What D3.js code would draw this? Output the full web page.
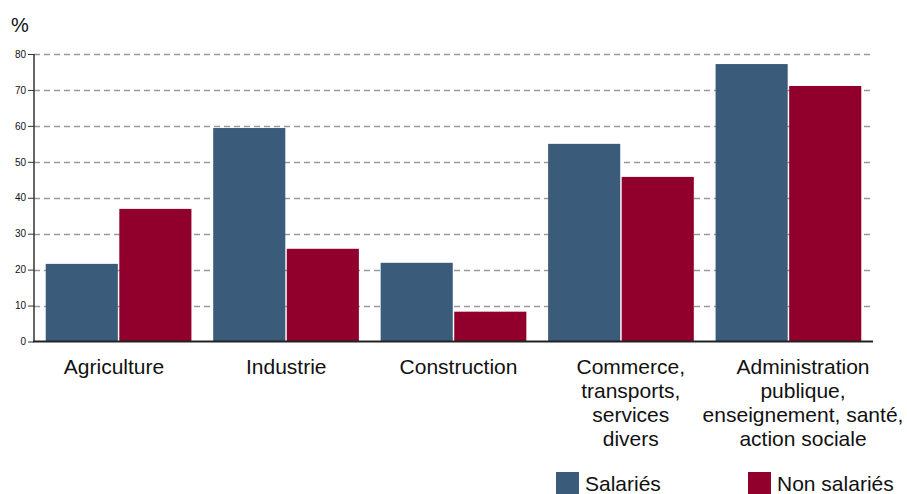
<!DOCTYPE html>
<html>
<head>
<meta charset="utf-8">
<script src="https://d3js.org/d3.v7.min.js"></script>
<style>
  body { margin: 0; background: #fff; }
  text { font-family: "Liberation Sans", Arial, sans-serif; fill: #111; }
</style>
</head>
<body>
<svg id="chart"></svg>
<script>

var categories = ["Agriculture", "Industrie", "Construction", "Commerce", "Administration"];
var categoryLines = [
  ["Agriculture"],
  ["Industrie"],
  ["Construction"],
  ["Commerce,", "transports,", "services", "divers"],
  ["Administration", "publique,", "enseignement, santé,", "action sociale"]
];
var series = ["Salariés", "Non salariés"];
var salaries = [21.6, 59.4, 21.9, 55.0, 77.2];
var nonSalaries = [36.9, 25.8, 8.3, 45.8, 71.1];
var yTicks = [0, 10, 20, 30, 40, 50, 60, 70, 80];

var colors = ["#3b5b7a", "#91002d"];

var width = 907, height = 494;
var plotLeft = 34, plotRight = 873, plotTop = 54, plotBottom = 341.5;

var svg = d3.select("#chart")
  .attr("width", width)
  .attr("height", height);

var y = d3.scaleLinear().domain([0, 80]).range([plotBottom, plotTop]);

var x = d3.scaleBand()
  .domain(categories)
  .range([plotLeft, plotRight])
  .paddingInner(0.13)
  .paddingOuter(0.07);

var xSub = d3.scaleBand()
  .domain(series)
  .range([0, x.bandwidth()])
  .paddingInner(0.02);

// label centres sit on their own spacing, a bit wider than the bars
var xLabel = d3.scalePoint()
  .domain(categories)
  .range([114, 803]);

// grid lines
svg.append("g")
  .selectAll("line")
  .data(yTicks.filter(function (d) { return d > 0; }))
  .enter().append("line")
  .attr("x1", plotLeft)
  .attr("x2", plotRight)
  .attr("y1", function (d) { return Math.round(y(d)) + 0.5; })
  .attr("y2", function (d) { return Math.round(y(d)) + 0.5; })
  .style("stroke", "#9a9a9a")
  .style("stroke-width", 1.3)
  .style("stroke-dasharray", "6,4");

// y axis
var yAxis = d3.axisLeft(y)
  .tickValues(yTicks)
  .tickSize(6)
  .tickPadding(2);

var ya = svg.append("g")
  .attr("transform", "translate(" + plotLeft + ",0)")
  .call(yAxis);
ya.select(".domain").attr("stroke", "#333").attr("stroke-width", 1.5).attr("d", "M0," + plotTop + "V" + plotBottom);
ya.selectAll(".tick line").attr("stroke", "#333");
ya.selectAll(".tick text")
  .style("font-size", "10px")
  .style("font-family", "'Liberation Sans', Arial, sans-serif")
  .attr("fill", "#222");

// bars
var rows = categories.map(function (c, i) {
  return { cat: c, values: [salaries[i], nonSalaries[i]] };
});

var groups = svg.append("g")
  .selectAll("g")
  .data(rows)
  .enter().append("g")
  .attr("transform", function (d) { return "translate(" + x(d.cat) + ",0)"; });

groups.selectAll("rect")
  .data(function (d) { return d.values.map(function (v, j) { return { s: series[j], v: v, j: j }; }); })
  .enter().append("rect")
  .attr("x", function (d) { return xSub(d.s); })
  .attr("width", xSub.bandwidth())
  .attr("y", function (d) { return y(d.v); })
  .attr("height", function (d) { return y(0) - y(d.v); })
  .style("fill", function (d) { return colors[d.j]; });

// baseline
svg.append("line")
  .attr("x1", plotLeft - 1)
  .attr("x2", plotRight)
  .attr("y1", y(0))
  .attr("y2", y(0))
  .style("stroke", "#222")
  .style("stroke-width", 2);

// category labels
svg.append("g")
  .selectAll("text")
  .data(categories)
  .enter().append("text")
  .attr("text-anchor", "middle")
  .style("font-size", "21px")
  .attr("transform", function (d) { return "translate(" + xLabel(d) + ",374)"; })
  .each(function (d, i) {
    var t = d3.select(this);
    categoryLines[i].forEach(function (line, k) {
      t.append("tspan")
        .attr("x", 0)
        .attr("y", k * 24)
        .text(line);
    });
  });

// unit
svg.append("text")
  .attr("x", 11)
  .attr("y", 32)
  .style("font-size", "20px")
  .text("%");

// legend
var legendX = [556, 748];
var legend = svg.append("g")
  .selectAll("g")
  .data(series)
  .enter().append("g")
  .attr("transform", function (d, i) { return "translate(" + legendX[i] + ",472)"; });

legend.append("rect")
  .attr("width", 23)
  .attr("height", 22)
  .style("fill", function (d, i) { return colors[i]; });

legend.append("text")
  .attr("x", 29)
  .attr("y", 19)
  .style("font-size", "21px")
  .text(function (d) { return d; });

</script>
</body>
</html>
